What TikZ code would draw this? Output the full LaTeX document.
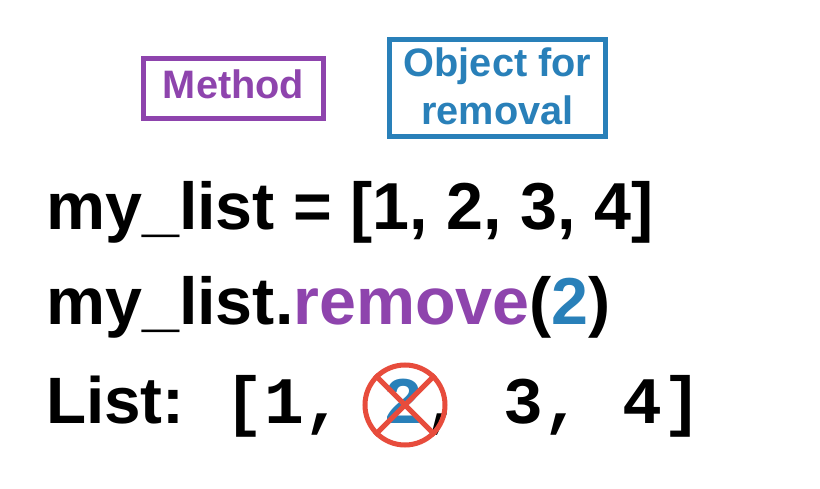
\documentclass[tikz,border=0pt]{standalone}
\usepackage{fontspec}
\setmainfont{Liberation Sans}
\newfontfamily\monob{Liberation Mono}[BoldFont={Liberation Mono Bold}]
\definecolor{purp}{HTML}{8E44AD}
\definecolor{blu}{HTML}{2980B9}
\definecolor{redx}{HTML}{E74C3C}
\tikzset{
 lbl/.style={font=\fontsize{39.7}{48}\selectfont\bfseries,inner sep=0pt,align=center},
 code/.style={font=\fontsize{66.4}{72}\selectfont\bfseries,inner sep=0pt,anchor=base west},
 boxp/.style={draw=purp,line width=4.7pt,text=purp,lbl},
 boxb/.style={draw=blu,line width=4.7pt,text=blu,lbl},
}
\begin{document}
\begin{tikzpicture}[x=1pt,y=-1pt]
\useasboundingbox (0,0) rectangle (820,489);
\fill[white] (0,0) rectangle (820,489);
\node[boxp,minimum width=180.3pt,minimum height=60.3pt] (method) at (233.5,88.5) {Method\rule[-8pt]{0pt}{8pt}};
\node[boxb,minimum width=216.3pt,minimum height=97.3pt] (object) at (497.5,88) {Object for\\removal\rule[-4pt]{0pt}{4pt}};
\node[code] (l1) at (46,230) {my\_list = [1, 2, 3, 4]};
\node[code] (l2) at (46,325) {my\_list.\textcolor{purp}{remove}(\textcolor{blu}{2})};
\node[code,font=\fontsize{65.6}{72}\selectfont\bfseries] (l3a) at (46,423) {List:};
\node[code] (l3b) at (224,423) {\monob [1, \textcolor{blu}{2}, 3, 4]};
\node[circle,draw=redx,line width=5pt,minimum size=80pt,inner sep=0pt] (cross) at (405,405) {};
\draw[redx,line width=5pt] (cross.north west) -- (cross.south east);
\draw[redx,line width=5pt] (cross.north east) -- (cross.south west);
\end{tikzpicture}
\end{document}
